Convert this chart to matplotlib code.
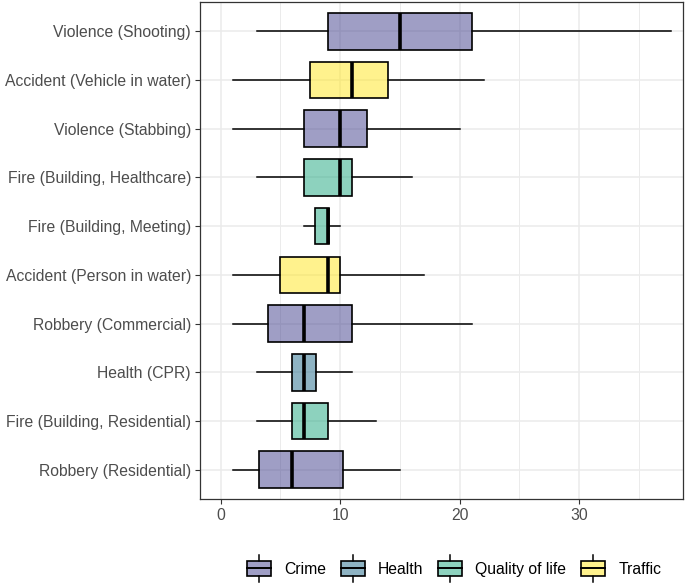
import numpy as np
import matplotlib
matplotlib.use("Agg")
import matplotlib.pyplot as plt
from matplotlib.patches import Rectangle, Patch
from matplotlib.lines import Line2D
from matplotlib.legend_handler import HandlerPatch

plt.rcParams['font.family'] = ['Liberation Sans', 'DejaVu Sans']

# incident types, top to bottom
incidents = ['Violence (Shooting)', 'Accident (Vehicle in water)', 'Violence (Stabbing)',
             'Fire (Building, Healthcare)', 'Fire (Building, Meeting)', 'Accident (Person in water)',
             'Robbery (Commercial)', 'Health (CPR)', 'Fire (Building, Residential)',
             'Robbery (Residential)']
groups = ['Crime', 'Traffic', 'Crime', 'Quality of life', 'Quality of life', 'Traffic',
          'Crime', 'Health', 'Quality of life', 'Crime']

# box stats
whislo = [3, 1, 1, 3, 7, 1, 1, 3, 3, 1]
q1 = [9, 7.5, 7, 7, 7.9, 5, 4, 6, 6, 3.2]
med = [15, 11, 10, 10, 9, 9, 7, 7, 7, 6]
q3 = [21, 14, 12.25, 11, 9.1, 10, 11, 8, 9, 10.25]
whishi = [37.7, 22, 20, 16, 10, 17, 21, 11, 13, 15]

legend_groups = ['Crime', 'Health', 'Quality of life', 'Traffic']
group_colors = {'Crime': '#413f8d', 'Health': '#1f6989',
                'Quality of life': '#1da77f', 'Traffic': '#ffe71d'}

fig = plt.figure(figsize=(6.85, 5.83), dpi=100)
ax = fig.add_axes([200 / 685, 1 - 499 / 583, 482.5 / 685, 497 / 583])

n = len(incidents)
pos = np.arange(n, 0, -1)
stats = []
for i in range(n):
    stats.append({'med': med[i], 'q1': q1[i], 'q3': q3[i],
                  'whislo': whislo[i], 'whishi': whishi[i], 'fliers': []})

bp = ax.bxp(stats, positions=pos, orientation='horizontal', widths=0.75,
            showcaps=False, showfliers=False, patch_artist=True,
            boxprops=dict(edgecolor='black', linewidth=1.2),
            whiskerprops=dict(color='black', linewidth=1.1),
            medianprops=dict(color='black', linewidth=2.6, solid_capstyle='butt'))
for box, g in zip(bp['boxes'], groups):
    box.set_facecolor(matplotlib.colors.to_rgba(group_colors[g], 0.5))
    box.set_zorder(3)
for m in bp['medians']:
    m.set_zorder(4)

ax.set_xlim(-1.73, 38.65)
ax.set_ylim(0.4, n + 0.6)
ax.set_yticks(pos)
ax.set_yticklabels(incidents)
ax.set_xticks([0, 10, 20, 30])
ax.set_xticks([5, 15, 25, 35], minor=True)
ax.grid(True, which='major', color='#ebebeb', linewidth=1.1, zorder=0)
ax.grid(True, which='minor', axis='x', color='#ebebeb', linewidth=0.7, zorder=0)
ax.set_axisbelow(True)
ax.tick_params(axis='both', which='major', length=3.5, width=0.8, color='#333333',
               labelcolor='#4d4d4d', labelsize=11.3, pad=3)
ax.tick_params(axis='x', which='minor', length=0)
for s in ax.spines.values():
    s.set_color('#333333')
    s.set_linewidth(0.9)


class BoxKey(HandlerPatch):
    def create_artists(self, legend, orig_handle, xdescent, ydescent, width, height, fontsize, trans):
        cx = -xdescent + width / 2
        cy = -ydescent + height / 2
        bw, bh = width * 0.95, height * 1.1
        rect = Rectangle((cx - bw / 2, cy - bh / 2), bw, bh,
                         facecolor=orig_handle.get_facecolor(), edgecolor='black',
                         linewidth=1.2, transform=trans)
        mid = Line2D([cx - bw / 2, cx + bw / 2], [cy, cy], color='black', linewidth=1.4, transform=trans)
        top = Line2D([cx, cx], [cy + bh / 2, cy + bh / 2 + height * 0.4], color='black', linewidth=1.1, transform=trans)
        bot = Line2D([cx, cx], [cy - bh / 2, cy - bh / 2 - height * 0.4], color='black', linewidth=1.1, transform=trans)
        return [top, bot, rect, mid]


handles = [Patch(facecolor=matplotlib.colors.to_rgba(group_colors[g], 0.5), label=g)
           for g in legend_groups]
fig.legend(handles=handles, loc='center', bbox_to_anchor=(454 / 685, 1 - 569 / 583),
           ncol=4, frameon=False, fontsize=11.3, handlelength=1.6, handleheight=1.0,
           handletextpad=0.8, columnspacing=0.9, handler_map={Patch: BoxKey()})

fig.savefig('out.png', dpi=100)
